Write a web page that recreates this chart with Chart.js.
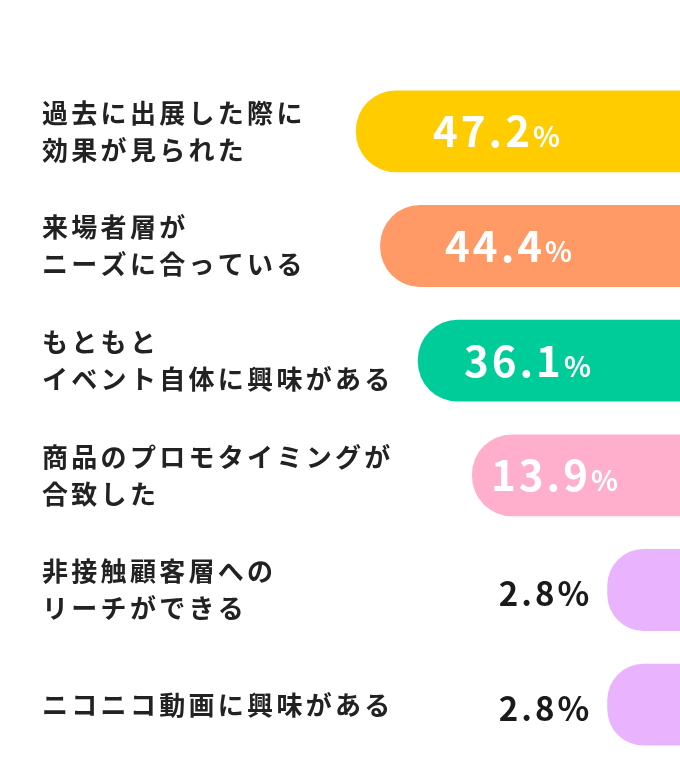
<!DOCTYPE html>
<html lang="ja">
<head>
<meta charset="UTF-8">
<title>出展理由</title>
<script src="https://cdn.jsdelivr.net/npm/chart.js@4.4.1/dist/chart.umd.min.js"></script>
<style>
  html, body { margin: 0; padding: 0; background: #fff; }
  canvas { display: block; }
</style>
</head>
<body>
<canvas id="reasonChart" width="680" height="776"></canvas>
<script>
// 項目（2行のものは配列で改行）
const reasons = [
    ['過去に出展した際に', '効果が見られた'],
    ['来場者層が', 'ニーズに合っている'],
    ['もともと', 'イベント自体に興味がある'],
    ['商品のプロモタイミングが', '合致した'],
    ['非接触顧客層への', 'リーチができる'],
    ['ニコニコ動画に興味がある']
];

// 回答率（%）
const shares = [47.2, 44.4, 36.1, 13.9, 2.8, 2.8];

// バーの長さ（図から読んだ描画幅の割合 0〜100）
const barLengths = [50.8, 47.0, 41.1, 32.6, 11.4, 11.4];

// バーの色
const barColors = ['#ffcc00', '#ff9966', '#00cc99', '#ffaecc', '#eab3fe', '#eab3fe'];

const FONT = '"Noto Sans CJK JP", "Noto Sans", sans-serif';

// 項目ラベル（y軸の位置に合わせて左端に描く）
const categoryLabelPlugin = {
    id: 'categoryLabels',
    afterDraw(chart) {
        const ctx = chart.ctx;
        const yScale = chart.scales.y;
        const lineHeight = 37;
        ctx.save();
        ctx.fillStyle = '#222';
        ctx.font = 'bold 26px ' + FONT;
        ctx.letterSpacing = '3.3px';
        ctx.textAlign = 'left';
        ctx.textBaseline = 'middle';
        chart.data.labels.forEach((lines, i) => {
            const center = yScale.getPixelForValue(i);
            const top = center - (lines.length - 1) * lineHeight / 2;
            lines.forEach((line, j) => {
                ctx.fillText(line, 42, top + j * lineHeight);
            });
        });
        ctx.restore();
    }
};

// バーの数値ラベル
const valueLabelPlugin = {
    id: 'valueLabels',
    afterDatasetsDraw(chart) {
        const ctx = chart.ctx;
        const bars = chart.getDatasetMeta(0).data;
        ctx.save();
        ctx.textBaseline = 'alphabetic';
        ctx.textAlign = 'left';
        bars.forEach((bar, i) => {
            const num = shares[i].toFixed(1);
            const y = bar.y + 16;
            if (shares[i] >= 10) {
                // バーの中は白文字、％は小さめ
                ctx.fillStyle = '#fff';
                ctx.letterSpacing = '3px';
                ctx.font = 'bold 42px ' + FONT;
                const numW = ctx.measureText(num).width;
                ctx.font = 'bold 28px ' + FONT;
                const pctW = ctx.measureText('%').width;
                const left = (bar.x + bar.base) / 2 - 20 - (numW + pctW) / 2;
                ctx.font = 'bold 42px ' + FONT;
                ctx.fillText(num, left, y);
                ctx.font = 'bold 28px ' + FONT;
                ctx.fillText('%', left + numW, y);
            } else {
                // 短いバーは左側に黒文字
                ctx.fillStyle = '#1a1a1a';
                ctx.letterSpacing = '3px';
                ctx.font = 'bold 33px ' + FONT;
                const w = ctx.measureText(num + '%').width - 3;
                ctx.fillText(num + '%', bar.x - 18 - w, y);
            }
        });
        ctx.restore();
    }
};

new Chart(document.getElementById('reasonChart'), {
    type: 'bar',
    data: {
        labels: reasons,
        datasets: [{
            data: barLengths,
            backgroundColor: barColors,
            borderWidth: 0,
            borderRadius: 40,
            borderSkipped: 'start',
            barPercentage: 0.714,
            categoryPercentage: 1
        }]
    },
    options: {
        indexAxis: 'y',
        responsive: false,
        animation: false,
        layout: {
            padding: { top: 74, bottom: 14, left: 42, right: 0 }
        },
        plugins: {
            legend: { display: false },
            tooltip: { enabled: false }
        },
        scales: {
            x: {
                reverse: true,
                min: 0,
                max: 100,
                display: false
            },
            y: {
                display: false
            }
        }
    },
    plugins: [categoryLabelPlugin, valueLabelPlugin]
});
</script>
</body>
</html>
